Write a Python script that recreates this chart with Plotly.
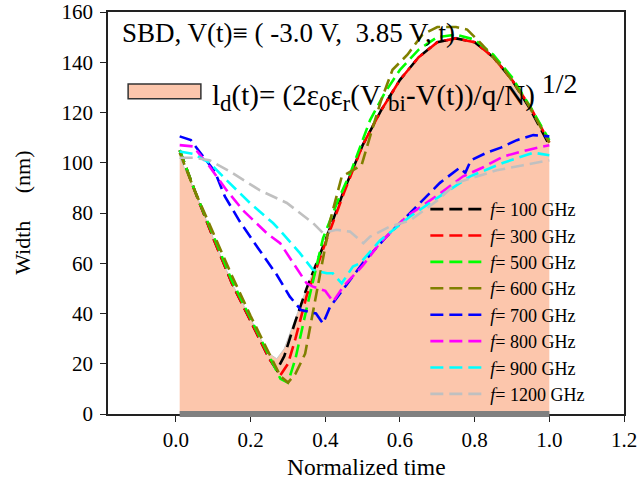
import plotly.graph_objects as go

# ---------------- data ----------------
fill_x = [0.01,0.05,0.10,0.15,0.20,0.23,0.25,0.27,0.29,0.32,0.35,0.40,0.45,0.50,0.55,0.60,0.65,0.70,0.75,0.80,0.85,0.90,0.95,1.00]
fill_y = [102,89,70,52,38,29,24,22,26,38,50,69,89,107,121,133,142,148,150,148,142,133,121,108]

f100_x = [0.01,0.05,0.10,0.15,0.20,0.23,0.25,0.27,0.29,0.32,0.35,0.40,0.45,0.50,0.55,0.60,0.65,0.70,0.75,0.80,0.85,0.90,0.95,1.00]
f100_y = [105,89,70,52,37,28,22,17.5,23,37,50,69,89,107,121,133,142,148,149.5,148,142,133,121,107]

f300_x = [0.01,0.05,0.10,0.15,0.20,0.23,0.25,0.28,0.30,0.32,0.35,0.40,0.45,0.50,0.55,0.60,0.65,0.70,0.75,0.80,0.85,0.90,0.95,1.00]
f300_y = [105,89,70,52,37,28,22,15.5,20,30,47,68,88,107,121,133,142,148,149.5,148,142,133,122,108]

f500_x = [0.01,0.05,0.10,0.15,0.20,0.23,0.26,0.28,0.30,0.32,0.35,0.394,0.434,0.47,0.52,0.56,0.60,0.65,0.70,0.75,0.80,0.85,0.90,0.95,1.00]
f500_y = [105,89,71,53,38,29,20,14,12.5,22,42,70,85,97,117,128,137,145,150,151,149,143,134,122,109]

f600_x = [0.01,0.05,0.10,0.15,0.20,0.25,0.28,0.30,0.32,0.346,0.367,0.386,0.413,0.444,0.497,0.528,0.55,0.58,0.62,0.66,0.70,0.75,0.78,0.82,0.88,0.94,1.00]
f600_y = [104,89,72,55,39,24,15,12.5,16,24,41,56,77,94.5,99,114.5,125,137,143,151,154,154,153,147,137,124,108]

f700_x = [0.01,0.04,0.06,0.104,0.131,0.171,0.22,0.27,0.305,0.32,0.335,0.375,0.394,0.413,0.44,0.50,0.56,0.627,0.654,0.707,0.76,0.775,0.79,0.832,0.87,0.913,0.957,1.00]
f700_y = [110.5,109,105,96.5,86.6,76.6,66,55.4,46.7,44,41.4,40,36,42.7,48,60,70,80,84,92,98,96,101,104,106,109,111,110.5]

f800_x = [0.01,0.046,0.09,0.136,0.18,0.243,0.279,0.314,0.35,0.367,0.40,0.421,0.448,0.50,0.546,0.618,0.70,0.769,0.82,0.877,0.94,1.00]
f800_y = [107,106.5,98.5,89,81,72,68,60,52,50.7,49,44.7,50.7,59,68,78.6,87,94.6,98,102.5,105,107]

f900_x = [0.01,0.046,0.09,0.136,0.198,0.26,0.279,0.332,0.367,0.404,0.42,0.444,0.474,0.493,0.546,0.627,0.70,0.788,0.877,0.957,1.00]
f900_y = [104.5,103.5,100,93,84,76,73,64,57.4,56,56,52,58.7,60,69,78.6,86,94.6,100,104,103]

f1200_x = [0.01,0.046,0.09,0.145,0.225,0.297,0.332,0.367,0.394,0.43,0.466,0.502,0.52,0.573,0.627,0.70,0.752,0.859,0.93,1.00]
f1200_y = [102,102,101,96.5,89,84,80,76,72,73.3,72.6,68,70.6,74.6,77,85,92,97,99,101]

series_names = ["100", "300", "500", "600", "700", "800", "900", "1200"]
series_x = [f100_x, f300_x, f500_x, f600_x, f700_x, f800_x, f900_x, f1200_x]
series_y = [f100_y, f300_y, f500_y, f600_y, f700_y, f800_y, f900_y, f1200_y]
series_colors = ["#000000", "#FF0000", "#00FF00", "#808000", "#0000FF", "#FF00FF", "#00FFFF", "#C0C0C0"]

x_ticks = [0.0, 0.2, 0.4, 0.6, 0.8, 1.0, 1.2]
y_ticks = [0, 20, 40, 60, 80, 100, 120, 140, 160]

FONT = "Liberation Serif"
FILL = "rgb(252,198,172)"
NB = "\u00a0"

fig = go.Figure()

fig.add_trace(go.Scatter(x=fill_x, y=fill_y, mode="lines", fill="tozeroy",
                         fillcolor=FILL, line=dict(color="#c8c8c8", width=1),
                         showlegend=False, hoverinfo="skip"))

for name, xs, ys, col in zip(series_names, series_x, series_y, series_colors):
    fig.add_trace(go.Scatter(x=xs, y=ys, mode="lines",
                             name="<i>f</i>= %s GHz" % name,
                             line=dict(color=col, width=2.6, dash="13px,6px")))

# thick gray baseline along the bottom of the filled region
fig.add_shape(type="line", xref="x", yref="paper", x0=fill_x[0], x1=fill_x[-1], y0=0, y1=0,
              line=dict(color="#808080", width=6), layer="above")

fig.add_annotation(xref="paper", yref="paper", x=0.023, y=0.948, xanchor="left", yanchor="middle",
                   text="SBD, V(t)\u2261 ( -3.0 V," + NB + NB + "3.85 V, t)", showarrow=False,
                   font=dict(family=FONT, size=27, color="black"))

fig.add_shape(type="rect", xref="paper", yref="paper", x0=0.039, x1=0.180, y0=0.784, y1=0.821,
              fillcolor=FILL, line=dict(color="#333333", width=1.5))

sub = lambda s: "<sub><span style='font-size:23px'>%s</span></sub>" % s
fig.add_annotation(xref="paper", yref="paper", x=0.198, y=0.80, xanchor="left", yanchor="middle",
                   text="l" + sub("d") + "(t)= (2\u03b5" + sub("0") + "\u03b5" + sub("r") + "(V" + NB + sub("bi")
                        + "-V(t))/q/N)<sup><span style='font-size:28px'>" + NB + "1/2</span></sup>",
                   showarrow=False, font=dict(family=FONT, size=29, color="black"))

# axis titles
fig.add_annotation(xref="paper", yref="paper", x=0.5, y=-0.132, xanchor="center", yanchor="middle",
                   text="Normalized time", showarrow=False,
                   font=dict(family=FONT, size=23.5, color="black"))
fig.add_annotation(xref="paper", yref="paper", x=-0.167, y=0.5, xanchor="center", yanchor="middle",
                   text="Width" + NB * 5 + "(nm)", textangle=-90, showarrow=False,
                   font=dict(family=FONT, size=22, color="black"))

axis_common = dict(showline=True, linecolor="#222222", linewidth=1.5, mirror=True,
                   ticks="outside", ticklen=6, tickwidth=1.2, tickcolor="#222222",
                   showgrid=False, zeroline=False, automargin=False,
                   tickfont=dict(family=FONT, size=21, color="black"))

fig.update_xaxes(range=[-0.182, 1.2], tickvals=x_ticks, ticktext=["%.1f" % v for v in x_ticks],
                 **axis_common)
fig.update_yaxes(range=[0, 160], tickvals=y_ticks, ticklabelstandoff=3, **axis_common)

fig.update_layout(
    width=641, height=488,
    margin=dict(l=108, r=17, t=12, b=74),
    paper_bgcolor="white", plot_bgcolor="white",
    hovermode=False,
    legend=dict(x=0.615, y=0.555, xanchor="left", yanchor="top",
                bgcolor="rgba(0,0,0,0)", borderwidth=0, itemwidth=55,
                font=dict(family=FONT, size=18, color="black"),
                tracegroupgap=0),
)

fig.write_html("out.html")
